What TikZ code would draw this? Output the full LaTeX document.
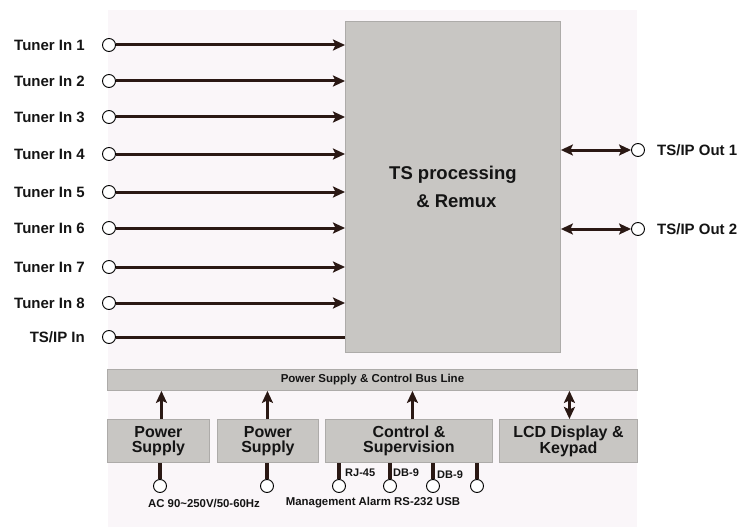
\documentclass[tikz,border=0pt]{standalone}
\usepackage{fontspec}
\setmainfont{Liberation Sans}
\usetikzlibrary{arrows.meta}
\definecolor{bgc}{HTML}{FAF6F9}
\definecolor{boxc}{HTML}{C8C6C3}
\definecolor{boxd}{HTML}{ADABA9}
\definecolor{arr}{HTML}{2A1814}
\definecolor{txt}{HTML}{141414}
\begin{document}
\begin{tikzpicture}[x=1pt,y=-1pt,
  port/.style={circle,draw=black,line width=0.9pt,fill=white,minimum size=13pt,inner sep=0pt},
  blk/.style={draw=boxd,fill=boxc,line width=0.9pt,inner sep=0pt,text=txt,font=\bfseries},
  conn/.style={draw=arr,line width=3pt},
  vconn/.style={draw=arr,line width=3.4pt},
  tip/.style={-{Stealth[length=12pt,width=11pt,inset=2.5pt]}},
  dtip/.style={{Stealth[length=12pt,width=11pt,inset=2.5pt]}-{Stealth[length=12pt,width=11pt,inset=2.5pt]}},
  lbl/.style={text=txt,font=\bfseries\fontsize{15}{17}\selectfont,inner sep=0pt},
  slbl/.style={text=txt,font=\bfseries\fontsize{11}{13}\selectfont,inner sep=0pt},
  bx/.style={blk,anchor=north west,align=center,font=\bfseries\fontsize{16}{14.5}\selectfont}
]
\useasboundingbox (0,0) rectangle (745,527);
\fill[white] (0,0) rectangle (745,527);
\fill[bgc] (108,10) rectangle (637,527);

% main block
\node[blk,anchor=north west,minimum width=215pt,minimum height=331pt,align=center,
  font=\bfseries\fontsize{18.5}{28}\selectfont] (main) at (345,21)
  {TS processing\\\hspace{7pt}\& Remux};

% inputs
\foreach \n/\y/\t in {1/45/Tuner In 1,2/81/Tuner In 2,3/117/Tuner In 3,4/154/Tuner In 4,
                      5/192/Tuner In 5,6/228/Tuner In 6,7/267/Tuner In 7,8/303/Tuner In 8}{
  \node[port] (t\n) at (109,\y) {};
  \node[lbl,anchor=east] (tl\n) at (85,\y) {\t};
  \draw[conn,tip] (t\n.east) -- (main.west |- t\n);
}
\node[port] (tsin) at (109,337) {};
\node[lbl,anchor=east] (tsinl) at (85,337) {TS/IP In};
\draw[conn] (tsin.east) -- (main.west |- tsin);

% outputs
\node[port] (o1) at (638,150) {};
\node[port] (o2) at (638,229) {};
\node[lbl,anchor=west] (o1l) at (657,150) {TS/IP Out 1};
\node[lbl,anchor=west] (o2l) at (657,229) {TS/IP Out 2};
\draw[conn,dtip] (main.east |- o1) -- (o1.west);
\draw[conn,dtip] (main.east |- o2) -- (o2.west);

% bus
\node[blk,anchor=north west,minimum width=530pt,minimum height=21pt,
  font=\bfseries\fontsize{11.5}{13}\selectfont] (bus) at (107,369)
  {Power Supply \& Control Bus Line};

% bottom blocks
\node[bx,minimum width=102pt,minimum height=43pt] (ps1) at (107,419) {Power\\Supply};
\node[bx,minimum width=101pt,minimum height=43pt] (ps2) at (217,419) {Power\\Supply};
\node[bx,minimum width=167pt,minimum height=43pt] (ctl) at (325,419) {Control \&\\Supervision};
\node[bx,minimum width=138pt,minimum height=43pt] (lcd) at (499,419) {LCD Display \&\\Keypad};

\draw[conn,tip] ([xshift=3pt]ps1.north) -- ([xshift=3pt]ps1.north |- bus.south);
\draw[conn,tip] ([xshift=-0.5pt]ps2.north) -- ([xshift=-0.5pt]ps2.north |- bus.south);
\draw[conn,tip] ([xshift=3.5pt]ctl.north) -- ([xshift=3.5pt]ctl.north |- bus.south);
\draw[conn,dtip] ([xshift=1pt]lcd.north) -- ([xshift=1pt]lcd.north |- bus.south);

% bottom ports
\node[port] (p1) at (160,486) {};
\node[port] (p2) at (267,486) {};
\node[port] (c1) at (339,486) {};
\node[port] (c2) at (390,486) {};
\node[port] (c3) at (433,486) {};
\node[port] (c4) at (477,486) {};
\draw[vconn] (p1.north) -- (p1.north |- ps1.south);
\draw[vconn] (p2.north) -- (p2.north |- ps2.south);
\foreach \c in {c1,c2,c3,c4}{ \draw[vconn] (\c.north) -- (\c.north |- ctl.south); }

\node[slbl,anchor=west] (rj) at (345,473) {RJ-45};
\node[slbl,anchor=west] (db1) at (393,473) {DB-9};
\node[slbl,anchor=west] (db2) at (437,475) {DB-9};

\node[text=txt,font=\bfseries\fontsize{11.4}{13}\selectfont,inner sep=0pt] (ac) at (204,503) {AC 90\textasciitilde250V/50-60Hz};
\node[text=txt,font=\bfseries\fontsize{11.4}{13}\selectfont,inner sep=0pt] (mg) at (373,503) {Management Alarm RS-232 USB};
\end{tikzpicture}
\end{document}
